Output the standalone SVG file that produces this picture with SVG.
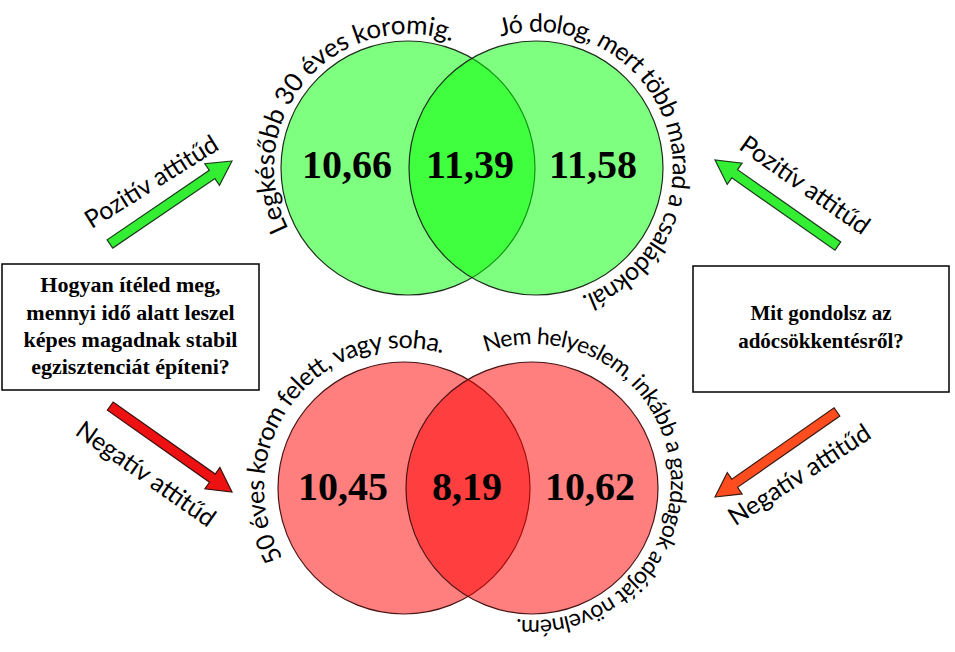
<svg xmlns="http://www.w3.org/2000/svg" width="955" height="652" viewBox="0 0 955 652">
<style>
  .arc { font-family: Lato, "Open Sans", sans-serif; fill: #000; }
  .num { font-family: "Liberation Serif", "Times New Roman", serif; font-weight: bold; font-size: 40px; fill: #000; text-anchor: middle; }
  .q { font-family: "Liberation Serif", "Times New Roman", serif; font-weight: bold; fill: #000; text-anchor: middle; }
  .lbl { font-family: Lato, "Open Sans", sans-serif; font-size: 25px; fill: #000; text-anchor: middle; }
  .g { fill: #00ff00; fill-opacity: 0.5; stroke: #1e2e1e; stroke-width: 1.2; }
  .r { fill: #ff0000; fill-opacity: 0.5; stroke: #4a1414; stroke-width: 1.2; }
  .box { fill: #fff; stroke: #000; stroke-width: 1.5; }
  .ag { fill: #33ee33; stroke: #1b3b1b; stroke-width: 1.2; }
  .ar { fill: #ee1111; stroke: #3b1010; stroke-width: 1.2; }
  .ao { fill: #ff4d1f; stroke: #3b1a10; stroke-width: 1.2; }
</style>
<defs>
  <path id="pTL" d="M288.6,228.8 A134,134 0 0 1 451.6,41.3"/>
  <path id="pTR" d="M500.8,36.6 A136,136 0 0 1 580.3,296.6"/>
  <path id="pBL" d="M282.8,558 A140,140 0 0 1 442.6,353.4"/>
  <path id="pBR" d="M485.8,352.3 A138,138 0 1 1 516.2,619"/>
  <polygon id="arrowShape" points="0,-5 -24,-5 -24,-13 0,0 -24,13 -24,5 0,5"/>
</defs>
<rect width="955" height="652" fill="#fff"/>

<g id="venn-top">
  <circle class="g" cx="408" cy="168" r="127"/>
  <circle class="g" cx="536" cy="168" r="127"/>
  <text class="num" x="347" y="178">10,66</text>
  <text class="num" x="470" y="178">11,39</text>
  <text class="num" x="593" y="178">11,58</text>
  <text class="arc" font-size="26"><textPath href="#pTL" textLength="318" lengthAdjust="spacing">Legkésőbb 30 éves koromig.</textPath></text>
  <text class="arc" font-size="25"><textPath href="#pTR" textLength="418" lengthAdjust="spacing">Jó dolog, mert több marad a családoknál.</textPath></text>
</g>

<g id="venn-bottom">
  <circle class="r" cx="404" cy="488" r="126"/>
  <circle class="r" cx="532" cy="488" r="126"/>
  <text class="num" x="343" y="500">10,45</text>
  <text class="num" x="467" y="500">8,19</text>
  <text class="num" x="590" y="500">10,62</text>
  <text class="arc" font-size="25"><textPath href="#pBL" textLength="332" lengthAdjust="spacing">50 éves korom felett, vagy soha.</textPath></text>
  <text class="arc" font-size="23"><textPath href="#pBR" textLength="498" lengthAdjust="spacing">Nem helyeslem, inkább a gazdagok adóját növelném.</textPath></text>
</g>

<g id="question-left">
  <rect class="box" x="2" y="264" width="257" height="126"/>
  <text class="q" font-size="22" x="130.5" y="292">Hogyan ítéled meg,</text>
  <text class="q" font-size="22" x="130.5" y="320">mennyi idő alatt leszel</text>
  <text class="q" font-size="22" x="130.5" y="347">képes magadnak stabil</text>
  <text class="q" font-size="22" x="130.5" y="374">egzisztenciát építeni?</text>
</g>

<g id="question-right">
  <rect class="box" x="693" y="266" width="256" height="126"/>
  <text class="q" font-size="21" x="821" y="320">Mit gondolsz az</text>
  <text class="q" font-size="21" x="821" y="348">adócsökkentésről?</text>
</g>

<g id="connectors">
  <g id="arrow-tl">
    <polygon class="ag" transform="translate(232,161) rotate(-34.2)" points="0,0 -24,-13 -24,-5 -147.6,-5 -147.6,5 -24,5 -24,13"/>
    <text class="lbl" transform="translate(156,189) rotate(-32)">Pozitív attitűd</text>
  </g>
  <g id="arrow-tr">
    <polygon class="ag" transform="translate(715,160) rotate(-145)" points="0,0 -24,-13 -24,-5 -150,-5 -150,5 -24,5 -24,13"/>
    <text class="lbl" transform="translate(800,192) rotate(35)">Pozitív attitűd</text>
  </g>
  <g id="arrow-bl">
    <polygon class="ar" transform="translate(232,492) rotate(35.2)" points="0,0 -24,-13 -24,-5 -149,-5 -149,5 -24,5 -24,13"/>
    <text class="lbl" transform="translate(141,481) rotate(35)">Negatív attitűd</text>
  </g>
  <g id="arrow-br">
    <polygon class="ao" transform="translate(715,497) rotate(145.1)" points="0,0 -24,-13 -24,-5 -148.7,-5 -148.7,5 -24,5 -24,13"/>
    <text class="lbl" transform="translate(804,482) rotate(-33)">Negatív attitűd</text>
  </g>
</g>
</svg>
